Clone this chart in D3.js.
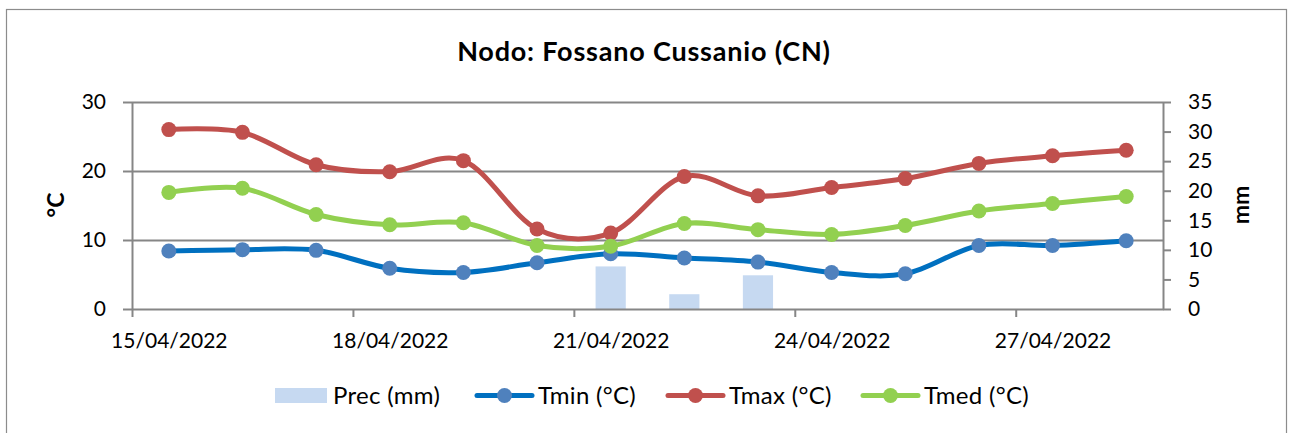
<!DOCTYPE html>
<html>
<head>
<meta charset="utf-8">
<script src="https://cdn.jsdelivr.net/npm/d3@7"></script>
<style>
  body { margin: 0; background: #fff; }
  svg text { font-family: Lato, "Open Sans", sans-serif; fill: #000; }
  .axis path, .axis line { stroke: #868686; }
</style>
</head>
<body>
<div id="chart"></div>
<script>
// Daily values
const dates = ["15/04/2022", "16/04/2022", "17/04/2022", "18/04/2022", "19/04/2022", "20/04/2022", "21/04/2022",
               "22/04/2022", "23/04/2022", "24/04/2022", "25/04/2022", "26/04/2022", "27/04/2022", "28/04/2022"];
const prec = [0, 0, 0, 0, 0, 0, 7.2, 2.5, 5.7, 0, 0, 0, 0, 0];
const tmin = [8.4, 8.6, 8.5, 5.9, 5.3, 6.7, 8.0, 7.4, 6.8, 5.3, 5.1, 9.2, 9.2, 9.9];
const tmax = [26.0, 25.6, 20.9, 19.9, 21.5, 11.6, 11.0, 19.2, 16.4, 17.6, 18.9, 21.1, 22.2, 23.0];
const tmed = [16.9, 17.5, 13.7, 12.2, 12.5, 9.2, 9.1, 12.4, 11.5, 10.8, 12.1, 14.2, 15.3, 16.3];
const tempTicks = [0, 10, 20, 30];
const precTicks = [0, 5, 10, 15, 20, 25, 30, 35];
const labelDates = ["15/04/2022", "18/04/2022", "21/04/2022", "24/04/2022", "27/04/2022"];

const W = 1289, H = 433;
const plot = { left: 132, right: 1163, top: 102, bottom: 309 };

const parse = d3.utcParse("%d/%m/%Y");
const fmt = d3.utcFormat("%d/%m/%Y");
const halfDay = 12 * 3600 * 1000;
const days = dates.map(parse);

const svg = d3.select("#chart").append("svg")
    .attr("width", W)
    .attr("height", H);

// chart frame
svg.append("rect")
    .attr("x", 6.5).attr("y", 9.5)
    .attr("width", 1280).attr("height", 440)
    .attr("fill", "none")
    .attr("stroke", "#8c8c8c")
    .attr("stroke-width", 1.2);

// Scales
const x = d3.scaleUtc()
    .domain([new Date(+days[0] - halfDay), new Date(+days[days.length - 1] + halfDay)])
    .range([plot.left, plot.right]);
const yT = d3.scaleLinear().domain([0, 30]).range([plot.bottom, plot.top]);
const yP = d3.scaleLinear().domain([0, 35]).range([plot.bottom, plot.top]);
const dayW = x(days[1]) - x(days[0]);

// Title
svg.append("text")
    .attr("x", 644).attr("y", 61)
    .attr("text-anchor", "middle")
    .style("font-size", "27px")
    .style("font-weight", "bold")
    .style("letter-spacing", "0.8px")
    .text("Nodo: Fossano Cussanio (CN)");

// Gridlines
svg.append("g")
    .selectAll("line")
    .data(tempTicks.filter(d => d > 0))
    .join("line")
    .attr("x1", plot.left).attr("x2", plot.right)
    .attr("y1", d => Math.round(yT(d)) + 0.5).attr("y2", d => Math.round(yT(d)) + 0.5)
    .attr("stroke", "#868686")
    .attr("stroke-width", 2);

// Precipitation bars
svg.append("g")
    .selectAll("rect")
    .data(prec.map((v, i) => ({ d: days[i], v })).filter(d => d.v > 0))
    .join("rect")
    .attr("x", d => x(d.d) - dayW * 0.205)
    .attr("width", dayW * 0.41)
    .attr("y", d => yP(d.v))
    .attr("height", d => yP(0) - yP(d.v))
    .attr("fill", "#c6d9f1");

// Axes
svg.append("g")
    .attr("class", "axis")
    .attr("transform", `translate(${plot.left},0)`)
    .call(d3.axisLeft(yT).tickValues(tempTicks).tickSize(9).tickPadding(17).tickSizeOuter(0));

svg.append("g")
    .attr("class", "axis")
    .attr("transform", `translate(${plot.right},0)`)
    .call(d3.axisRight(yP).tickValues(precTicks).tickSize(8).tickPadding(17).tickSizeOuter(0));

// tick marks on day boundaries every 3 days
const markDates = labelDates.map(s => new Date(+parse(s) - halfDay));
svg.append("g")
    .attr("class", "axis")
    .attr("transform", `translate(0,${plot.bottom})`)
    .call(d3.axisBottom(x).tickValues(markDates).tickSize(8).tickFormat("").tickSizeOuter(0));

const bottomAxis = svg.append("g")
    .attr("class", "axis")
    .attr("transform", `translate(0,${plot.bottom})`)
    .call(d3.axisBottom(x).tickValues(labelDates.map(parse)).tickSize(0).tickPadding(24).tickFormat(fmt).tickSizeOuter(0));
bottomAxis.select(".domain").remove();

svg.selectAll(".axis .domain").attr("stroke-width", 2);
svg.selectAll(".axis line").attr("stroke-width", 2);
svg.selectAll(".axis text").style("font-size", "21px").style("font-family", "Lato, sans-serif").attr("fill", "#000");

// Axis titles
svg.append("text")
    .attr("transform", "translate(64,205) rotate(-90)")
    .attr("text-anchor", "middle")
    .style("font-size", "23px")
    .style("font-weight", "bold")
    .text("°C");
svg.append("text")
    .attr("transform", "translate(1249,205) rotate(-90)")
    .attr("text-anchor", "middle")
    .style("font-size", "23px")
    .style("font-weight", "bold")
    .text("mm");

// Temperature lines
const series = [
    { name: "Tmin (°C)", values: tmin, line: "#0070c0", marker: "#4f81bd" },
    { name: "Tmax (°C)", values: tmax, line: "#c0504d", marker: "#c0504d" },
    { name: "Tmed (°C)", values: tmed, line: "#92d050", marker: "#92d050" }
];

const line = d3.line()
    .x((v, i) => x(days[i]))
    .y(v => yT(v))
    .curve(d3.curveCardinal.tension(0));

series.forEach(s => {
    svg.append("path")
        .attr("d", line(s.values))
        .attr("fill", "none")
        .attr("stroke", s.line)
        .attr("stroke-width", 5)
        .attr("stroke-linejoin", "round");
    svg.append("g")
        .selectAll("circle")
        .data(s.values)
        .join("circle")
        .attr("cx", (v, i) => x(days[i]))
        .attr("cy", v => yT(v))
        .attr("r", 7.5)
        .attr("fill", s.marker);
});

// Legend
const legend = svg.append("g").style("font-size", "24px").style("letter-spacing", "0.3px");
legend.append("rect")
    .attr("x", 275).attr("y", 388)
    .attr("width", 52).attr("height", 15)
    .attr("fill", "#c6d9f1");
legend.append("text").attr("x", 333).attr("y", 404).text("Prec (mm)");

const legendX = [477, 668, 863];
series.forEach((s, i) => {
    const lx = legendX[i];
    legend.append("line")
        .attr("x1", lx).attr("x2", lx + 55)
        .attr("y1", 395.5).attr("y2", 395.5)
        .attr("stroke", s.line)
        .attr("stroke-width", 5)
        .attr("stroke-linecap", "round");
    legend.append("circle")
        .attr("cx", lx + 27.5).attr("cy", 395.5)
        .attr("r", 7.5)
        .attr("fill", s.marker);
    legend.append("text").attr("x", lx + 61).attr("y", 404).text(s.name);
});
</script>
</body>
</html>
